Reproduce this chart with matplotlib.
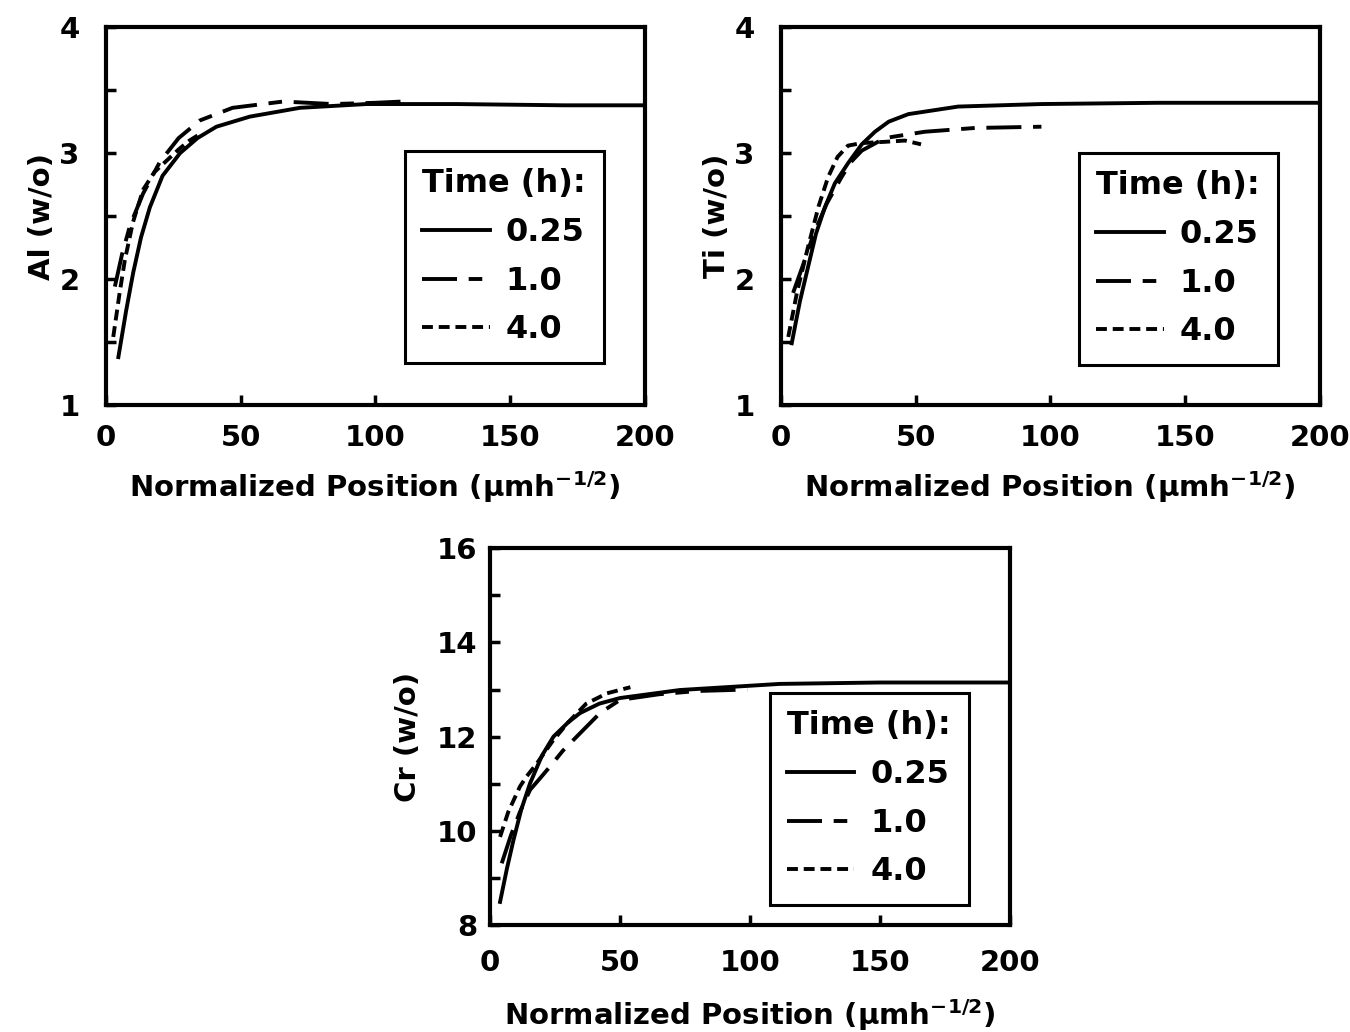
import numpy as np
import matplotlib
matplotlib.use("Agg")
import matplotlib.pyplot as plt
from matplotlib.ticker import MultipleLocator

plt.rcParams['font.family'] = ['DejaVu Sans']
plt.rcParams['font.weight'] = 'bold'
plt.rcParams['mathtext.default'] = 'regular'

# --- data (x in um h^-1/2, y in w/o) ---
times = ["0.25", "1.0", "4.0"]

al_x_025 = [4.6, 7.5, 10.1, 13, 16.3, 21, 27.5, 34, 41, 53.4, 72, 96.7, 130, 170, 200]
al_y_025 = [1.38, 1.75, 2.05, 2.33, 2.57, 2.82, 3.0, 3.12, 3.21, 3.29, 3.36, 3.39, 3.39, 3.38, 3.38]
al_x_10 = [3.3, 6, 9, 13.8, 20, 27, 34.9, 47, 65.8, 84, 100, 110]
al_y_10 = [1.94, 2.2, 2.43, 2.68, 2.93, 3.12, 3.26, 3.36, 3.41, 3.39, 3.40, 3.41]
al_x_40 = [2.7, 5, 7, 10, 13.8, 18, 22.5, 27, 31, 34]
al_y_40 = [1.54, 1.88, 2.15, 2.45, 2.71, 2.85, 2.94, 3.03, 3.1, 3.14]

ti_x_025 = [4.0, 7, 10.1, 13, 16.3, 20, 24.9, 30, 34.9, 40, 47.3, 65.8, 96.7, 140, 200]
ti_y_025 = [1.49, 1.82, 2.10, 2.36, 2.57, 2.76, 2.92, 3.07, 3.17, 3.25, 3.31, 3.37, 3.39, 3.40, 3.40]
ti_x_10 = [4.5, 8, 12, 17, 22.5, 26, 30, 38.6, 53.4, 72, 96.7]
ti_y_10 = [1.89, 2.1, 2.35, 2.6, 2.81, 2.93, 3.02, 3.12, 3.17, 3.20, 3.21]
ti_x_40 = [2.7, 6, 10.1, 14, 17.5, 21, 24.9, 30, 38.6, 46, 52]
ti_y_40 = [1.54, 1.9, 2.26, 2.58, 2.81, 2.97, 3.06, 3.08, 3.09, 3.10, 3.07]

cr_x_025 = [3.85, 6.5, 9, 12, 15.4, 20, 24.4, 30, 34.6, 42, 50, 73, 111.5, 150, 200]
cr_y_025 = [8.49, 9.2, 9.80, 10.45, 11.01, 11.6, 12.0, 12.3, 12.5, 12.7, 12.82, 12.99, 13.12, 13.15, 13.15]
cr_x_10 = [4.5, 8, 11.5, 15.4, 19, 23, 28, 34.6, 42.3, 50, 65, 80, 99]
cr_y_10 = [9.31, 9.9, 10.4, 10.87, 11.1, 11.36, 11.7, 12.07, 12.5, 12.78, 12.9, 12.97, 13.0]
cr_x_40 = [3.85, 7, 11.5, 14, 18, 24, 30, 37, 45, 52.6, 54]
cr_y_40 = [9.87, 10.4, 10.94, 11.15, 11.43, 11.9, 12.3, 12.7, 12.92, 13.03, 13.05]

panels = [
    dict(rect=[0.0785, 0.6076, 0.399, 0.366], ylim=(1, 4), ystep=0.5, yticks=[1, 2, 3, 4],
         ylabel="Al (w/o)", leg=(0.555, 0.111), ypad=19, ylabpad=2, xpad=14, xlabpad=12,
         series=[(al_x_025, al_y_025), (al_x_10, al_y_10), (al_x_40, al_y_40)]),
    dict(rect=[0.5785, 0.6076, 0.399, 0.366], ylim=(1, 4), ystep=0.5, yticks=[1, 2, 3, 4],
         ylabel="Ti (w/o)", leg=(0.553, 0.106), ypad=19, ylabpad=2, xpad=14, xlabpad=12,
         series=[(ti_x_025, ti_y_025), (ti_x_10, ti_y_10), (ti_x_40, ti_y_40)]),
    dict(rect=[0.363, 0.1037, 0.385, 0.365], ylim=(8, 16), ystep=1, yticks=[8, 10, 12, 14, 16],
         ylabel="Cr (w/o)", leg=(0.538, 0.053), ypad=9, ylabpad=11, xpad=17, xlabpad=15,
         series=[(cr_x_025, cr_y_025), (cr_x_10, cr_y_10), (cr_x_40, cr_y_40)]),
]

styles = [dict(linestyle='-'),
          dict(dashes=(9, 3, 3.5, 3)),
          dict(dashes=(2.8, 1.5))]

fig = plt.figure(figsize=(13.5, 10.32), dpi=100)

for p in panels:
    ax = fig.add_axes(p['rect'])
    for (x, y), st, t in zip(p['series'], styles, times):
        ax.plot(x, y, color='black', lw=2.8, label=t, **st)
    ax.set_xlim(0, 200)
    ax.set_ylim(*p['ylim'])
    ax.set_xticks([0, 50, 100, 150, 200])
    ax.set_yticks(p['yticks'])
    ax.yaxis.set_minor_locator(MultipleLocator(p['ystep']))
    ax.tick_params(direction='in', width=2.5, length=7, labelsize=21)
    ax.tick_params(axis='x', pad=p['xpad'])
    ax.tick_params(axis='y', pad=p['ypad'])
    ax.tick_params(which='minor', direction='in', width=2.5, length=7)
    for s in ax.spines.values():
        s.set_linewidth(3)
    ax.set_ylabel(p['ylabel'], fontsize=21, fontweight='bold', labelpad=p['ylabpad'])
    ax.set_xlabel("Normalized Position (μmh$^{-1/2}$)", fontsize=21,
                  fontweight='bold', labelpad=p['xlabpad'])
    leg = ax.legend(loc='lower left', bbox_to_anchor=p['leg'], title="Time (h):",
                    alignment='left', fontsize=23, title_fontsize=23,
                    handlelength=2.1, handletextpad=0.5, labelspacing=0.55,
                    borderpad=0.55, borderaxespad=0, fancybox=False, framealpha=1,
                    edgecolor='black')
    leg.get_frame().set_linewidth(2.2)
    leg.get_title().set_fontweight('bold')
    leg._legend_box.sep = 13

fig.savefig("out.png", dpi=100)
